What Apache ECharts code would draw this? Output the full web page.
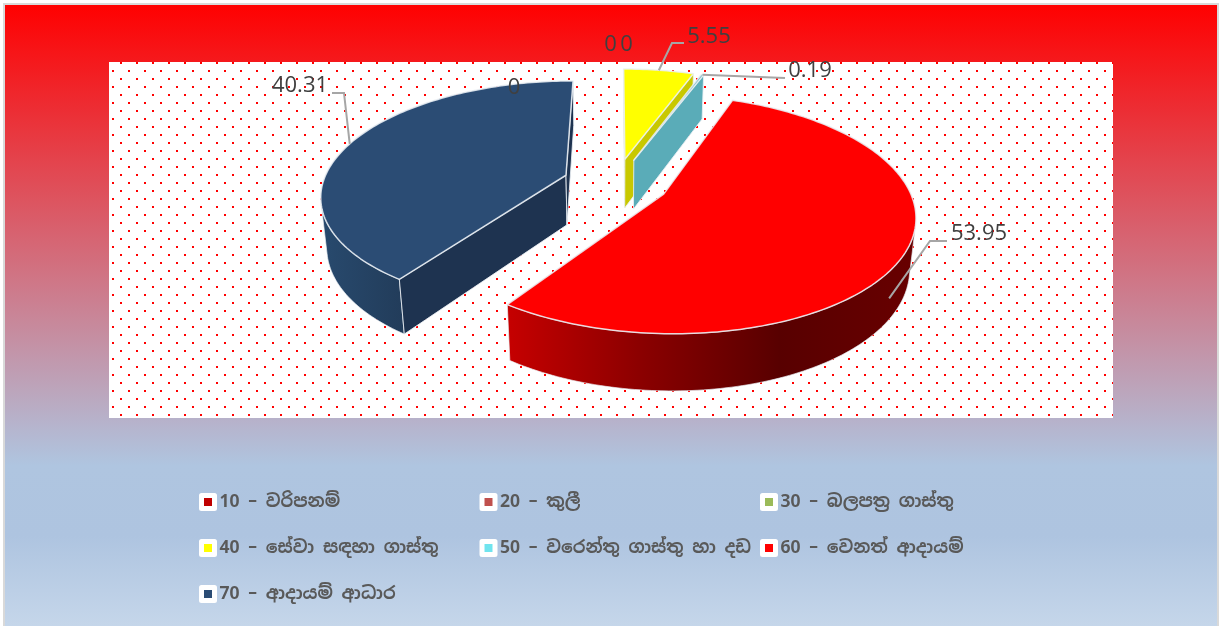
<!DOCTYPE html>
<html>
<head>
    <meta charset="utf-8">
    <title>ආදායම්</title>
    <style type="text/css">
        html,body{ margin:0; padding:0; background:#fff; }
        #main{ width:1220px; height:626px; }
    </style>
    <script src="https://cdn.jsdelivr.net/npm/echarts@6/dist/echarts.min.js"></script>
</head>
<body>
    <div id="main"></div>
    <script type="text/javascript">
// data
var categories = ['10 – වරිපනම්', '20 – කුලී', '30 – බලපත්‍ර ගාස්තු', '40 – සේවා සඳහා ගාස්තු', '50 – වරෙන්තු ගාස්තු හා දඩ', '60 – වෙනත් ආදායම්', '70 – ආදායම් ආධාර'];
var values = [0, 0, 0, 5.55, 0.19, 53.95, 40.31];
var colors = ['#C00000', '#C0504D', '#9BBB59', '#FFFF00', '#70E4EE', '#FF0000', '#2B4C74'];

// 3d look of each slice: top, cut face, outer wall gradient
var topColors = ['#C00000', '#C0504D', '#9BBB59', '#FFFF00', '#5AACB8', '#FF0000', '#2B4C74'];
var cutColors = ['#800000', '#80302D', '#66803A', '#C8C800', '#5AACB8', '#A00000', '#1E3350'];
var wallStops = [
    ['#C00000', '#800000'], ['#C0504D', '#80302D'], ['#9BBB59', '#66803A'], ['#C8C800', '#C8C800'], ['#5AACB8', '#5AACB8'],
    ['#C60000', '#8A0000', '#580000', '#680000'],
    ['#284A6E', '#223C5A']
];

// label placement, [x, y] of text and leader line points after the slice edge
var labelLayout = [
    {at: [610.5, 45]},
    {at: [626.5, 45]},
    {at: [514, 88]},
    {at: [709, 37], line: [[672, 43], [684, 43]], wallDepth: 0, reach: 1},
    {at: [810, 71], line: [[785, 78]], wallDepth: 0, reach: 1},
    {at: [979, 234], line: [[930, 241], [947, 241]], wallDepth: 0.9, reach: 0.96},
    {at: [300, 86], line: [[344, 93], [332, 93]], wallDepth: 0, reach: 1}
];

// camera of the 3d pie
var X0 = 616, Y0 = 182.5;
var RADIUS = 243, EXPLODE = 53, HEIGHT = 57.5, CAMERA = 1300;
var TILT = 27.5 * Math.PI / 180;
var sinT = Math.sin(TILT), cosT = Math.cos(TILT);

var total = values.reduce(function (a, b) { return a + b; }, 0);

function project(x, y, z) {
    var v = y * sinT + z * cosT;
    var w = y * cosT - z * sinT;
    var s = CAMERA / (CAMERA + w);
    return [X0 + s * x, Y0 - s * v];
}

// angle is clockwise from 12 o'clock
function slicePoint(mid, angle, r, z) {
    return project(
        r * Math.sin(angle) + EXPLODE * Math.sin(mid),
        r * Math.cos(angle) + EXPLODE * Math.cos(mid),
        z
    );
}

function arcPoints(mid, a0, a1, z) {
    var n = Math.max(2, Math.ceil((a1 - a0) / 0.02));
    var pts = [];
    for (var i = 0; i <= n; i++) {
        pts.push(slicePoint(mid, a0 + (a1 - a0) * i / n, RADIUS, z));
    }
    return pts;
}

// screen area sign, tells if a face looks at the camera
function signedArea(pts) {
    var sum = 0;
    for (var i = 0; i < pts.length; i++) {
        var p = pts[i], q = pts[(i + 1) % pts.length];
        sum += p[0] * q[1] - q[0] * p[1];
    }
    return sum / 2;
}

function poly(points, fill, stroke, width) {
    return {
        type: 'polygon',
        shape: {points: points},
        style: {fill: fill, stroke: stroke, lineWidth: width, lineJoin: 'round'}
    };
}

function makeRender(index) {
    return function (params, api) {
        var value = api.value(0);
        var start = 0;
        for (var i = 0; i < index; i++) start += values[i];
        var a0 = start / total * Math.PI * 2;
        var a1 = (start + value) / total * Math.PI * 2;
        var mid = (a0 + a1) / 2;
        var children = [];
        var edge = 'rgba(235,240,245,0.85)';

        if (value > 0) {
            var apexTop = slicePoint(mid, 0, 0, 0);
            var apexBottom = slicePoint(mid, 0, 0, -HEIGHT);

            // outer wall, only the part turned to the camera
            var top = arcPoints(mid, a0, a1, 0);
            var bottom = arcPoints(mid, a0, a1, -HEIGHT);
            var first = -1, last = -1;
            for (var k = 0; k < top.length - 1; k++) {
                if (signedArea([top[k], top[k + 1], bottom[k + 1], bottom[k]]) < 0) {
                    if (first < 0) first = k;
                    last = k + 1;
                }
            }
            if (first >= 0) {
                var wallPts = top.slice(first, last + 1).concat(bottom.slice(first, last + 1).reverse());
                var stops = wallStops[index].map(function (c, n, arr) {
                    return {offset: n / (arr.length - 1), color: c};
                });
                children.push(poly(wallPts, new echarts.graphic.LinearGradient(0, 0, 1, 0, stops), edge, 0.8));
            }

            // cut faces
            [[a0, -1], [a1, 1]].forEach(function (face) {
                var rimTop = slicePoint(mid, face[0], RADIUS, 0);
                var rimBottom = slicePoint(mid, face[0], RADIUS, -HEIGHT);
                var pts = [apexTop, rimTop, rimBottom, apexBottom];
                if (signedArea(pts) * face[1] > 0) {
                    children.push(poly(pts, cutColors[index], edge, 1));
                }
            });

            children.push(poly([apexTop].concat(top), topColors[index], edge, 1.5));
        }

        // data label and leader line
        var layout = labelLayout[index];
        if (layout.line) {
            var from = slicePoint(mid, mid, RADIUS * layout.reach, -HEIGHT * layout.wallDepth);
            children.push({
                type: 'polyline',
                shape: {points: [from].concat(layout.line)},
                style: {fill: null, stroke: '#A6A6A6', lineWidth: 2}
            });
        }
        children.push({
            type: 'text',
            x: layout.at[0],
            y: layout.at[1],
            style: {
                text: String(value),
                fill: '#404040',
                font: '22px "Open Sans", "Noto Sans", sans-serif',
                align: 'center',
                verticalAlign: 'middle'
            }
        });
        return {type: 'group', children: children};
    };
}

// white dotted plot area
var dots = document.createElement('canvas');
dots.width = 16;
dots.height = 16;
var dotCtx = dots.getContext('2d');
dotCtx.fillStyle = '#fff';
dotCtx.fillRect(0, 0, 16, 16);
dotCtx.fillStyle = '#FF0000';
dotCtx.fillRect(0, 6, 2, 2);
dotCtx.fillRect(8, 14, 2, 2);

var myChart = echarts.init(document.getElementById('main'));

var series = categories.map(function (name, i) {
    return {
        type: 'custom',
        name: name,
        coordinateSystem: 'none',
        silent: true,
        animation: false,
        z: values[i] > 0 ? 2 : 5,
        itemStyle: {color: colors[i]},
        renderItem: makeRender(i),
        data: [[values[i]]]
    };
});

function legendColumn(left, names) {
    return {
        orient: 'vertical',
        left: left,
        top: 488,
        itemGap: 28,
        itemWidth: 13,
        itemHeight: 13,
        selectedMode: false,
        icon: 'rect',
        itemStyle: {borderColor: '#fff', borderWidth: 5, borderJoin: 'round'},
        textStyle: {
            color: '#595959',
            fontSize: 17.5,
            fontWeight: 'bold',
            fontFamily: '"Noto Sans Sinhala", "Noto Sans", sans-serif'
        },
        data: names
    };
}

var option = {
    animation: false,
    graphic: [
        {
            type: 'rect',
            z: -2,
            shape: {x: 4, y: 4, width: 1214, height: 640},
            style: {
                fill: new echarts.graphic.LinearGradient(0, 0, 0, 1, [
                    {offset: 0, color: '#FF0000'},
                    {offset: 0.72, color: '#AFC5E0'},
                    {offset: 0.83, color: '#AEC4E0'},
                    {offset: 1, color: '#CADAEC'}
                ]),
                stroke: '#D9D9D9',
                lineWidth: 2
            }
        },
        {
            type: 'rect',
            z: -1,
            shape: {x: 109, y: 62, width: 1004, height: 356},
            style: {fill: {image: dots, repeat: 'repeat'}}
        }
    ],
    legend: [
        legendColumn(194, [categories[0], categories[3], categories[6]]),
        legendColumn(474.5, [categories[1], categories[4]]),
        legendColumn(755, [categories[2], categories[5]])
    ],
    series: series
};

myChart.setOption(option);
    </script>
</body>
</html>
